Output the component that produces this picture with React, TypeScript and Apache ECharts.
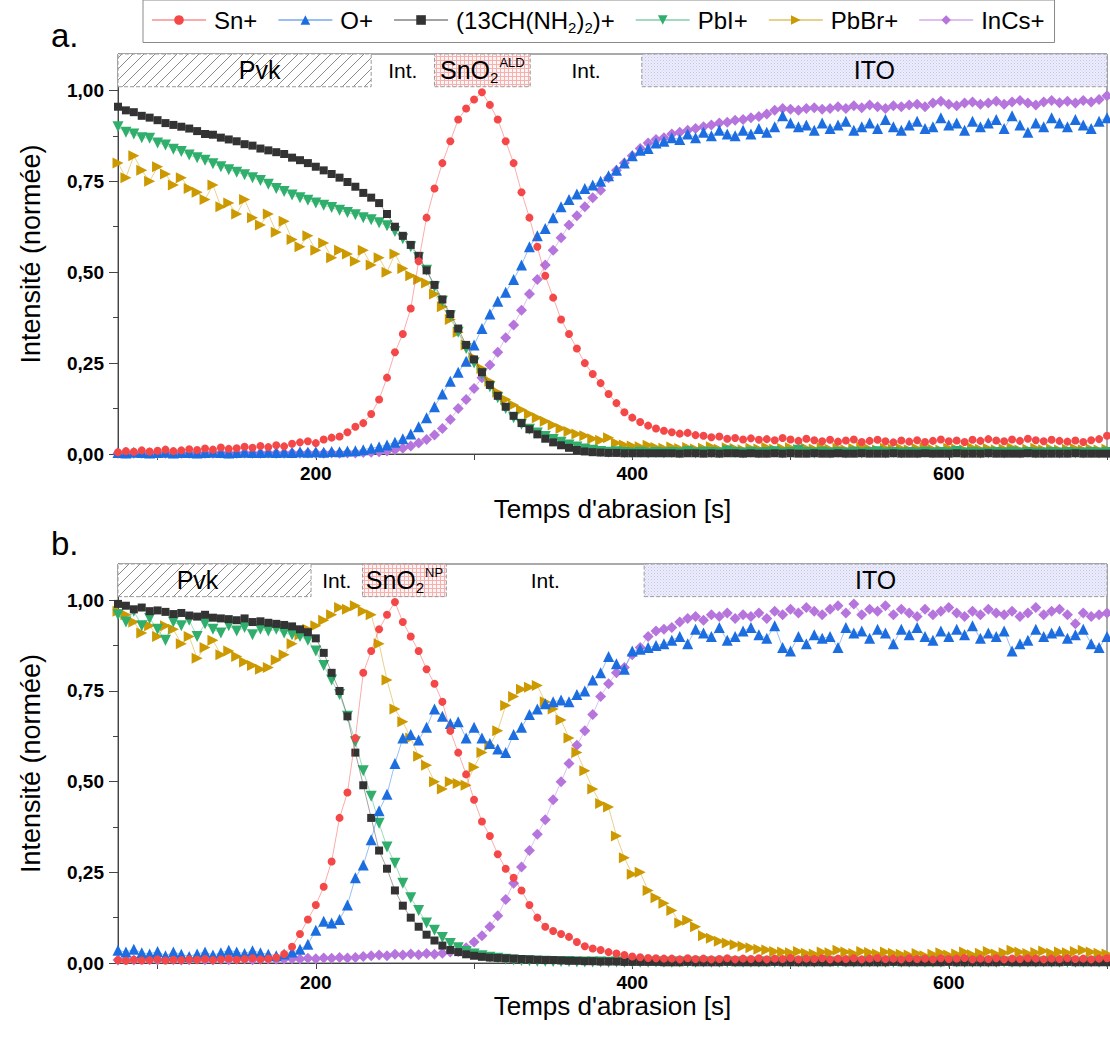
import React, { useEffect, useRef } from "react";
import * as echarts from "echarts";

// ---------- data ----------
const TIME = [
  75, 80, 85, 90, 95, 100, 105, 110, 115, 120,
  125, 130, 135, 140, 145, 150, 155, 160, 165, 170,
  175, 180, 185, 190, 195, 200, 205, 210, 215, 220,
  225, 230, 235, 240, 245, 250, 255, 260, 265, 270,
  275, 280, 285, 290, 295, 300, 305, 310, 315, 320,
  325, 330, 335, 340, 345, 350, 355, 360, 365, 370,
  375, 380, 385, 390, 395, 400, 405, 410, 415, 420,
  425, 430, 435, 440, 445, 450, 455, 460, 465, 470,
  475, 480, 485, 490, 495, 500, 505, 510, 515, 520,
  525, 530, 535, 540, 545, 550, 555, 560, 565, 570,
  575, 580, 585, 590, 595, 600, 605, 610, 615, 620,
  625, 630, 635, 640, 645, 650, 655, 660, 665, 670,
  675, 680, 685, 690, 695, 700,
];

// Panel a. (SnO2 ALD)
const TOP_SN = [
  0.005, 0.008, 0.006, 0.010, 0.007, 0.009, 0.012, 0.008, 0.010, 0.013,
  0.011, 0.015, 0.012, 0.018, 0.014, 0.016, 0.020, 0.017, 0.022, 0.019,
  0.024, 0.021, 0.028, 0.032, 0.035, 0.030, 0.040, 0.045, 0.048, 0.060,
  0.075, 0.085, 0.110, 0.150, 0.210, 0.280, 0.330, 0.400, 0.530, 0.650,
  0.730, 0.800, 0.860, 0.920, 0.950, 0.975, 0.995, 0.960, 0.920, 0.860,
  0.800, 0.720, 0.650, 0.570, 0.490, 0.430, 0.370, 0.330, 0.290, 0.250,
  0.220, 0.195, 0.165, 0.140, 0.115, 0.100, 0.088, 0.078, 0.070, 0.064,
  0.060, 0.056, 0.058, 0.052, 0.050, 0.046, 0.048, 0.042, 0.044, 0.040,
  0.043, 0.039, 0.041, 0.038, 0.044, 0.040, 0.036, 0.042, 0.038, 0.035,
  0.039, 0.034, 0.037, 0.040, 0.033, 0.036, 0.039, 0.035, 0.032, 0.037,
  0.034, 0.038, 0.033, 0.036, 0.040, 0.035, 0.037, 0.033, 0.039, 0.036,
  0.041, 0.037, 0.035, 0.040, 0.036, 0.042, 0.038, 0.035, 0.039, 0.036,
  0.034, 0.037, 0.033, 0.038, 0.041, 0.050,
];
const TOP_O = [
  0.004, 0.003, 0.005, 0.004, 0.003, 0.004, 0.005, 0.003, 0.004, 0.004,
  0.003, 0.004, 0.005, 0.004, 0.003, 0.004, 0.005, 0.004, 0.004, 0.005,
  0.004, 0.005, 0.004, 0.006, 0.005, 0.006, 0.005, 0.007, 0.006, 0.008,
  0.009, 0.012, 0.016, 0.020, 0.025, 0.032, 0.042, 0.055, 0.075, 0.100,
  0.130, 0.165, 0.200, 0.225, 0.255, 0.300, 0.345, 0.385, 0.420, 0.445,
  0.480, 0.520, 0.570, 0.600, 0.620, 0.650, 0.680, 0.700, 0.715, 0.730,
  0.740, 0.750, 0.765, 0.780, 0.800, 0.820, 0.835, 0.840, 0.855, 0.860,
  0.870, 0.865, 0.880, 0.870, 0.885, 0.875, 0.890, 0.880, 0.875, 0.890,
  0.880, 0.895, 0.885, 0.900, 0.930, 0.910, 0.900, 0.905, 0.890, 0.910,
  0.895, 0.905, 0.915, 0.890, 0.900, 0.910, 0.895, 0.920, 0.900, 0.890,
  0.905, 0.915, 0.895, 0.900, 0.925, 0.905, 0.910, 0.890, 0.915, 0.900,
  0.910, 0.920, 0.895, 0.930, 0.905, 0.885, 0.910, 0.900, 0.925, 0.910,
  0.900, 0.920, 0.905, 0.895, 0.915, 0.925,
];
const TOP_FA = [
  0.955, 0.945, 0.940, 0.930, 0.925, 0.918, 0.910, 0.905, 0.900, 0.895,
  0.888, 0.880, 0.878, 0.870, 0.865, 0.860, 0.852, 0.848, 0.840, 0.835,
  0.830, 0.825, 0.815, 0.808, 0.800, 0.790, 0.780, 0.770, 0.760, 0.748,
  0.735, 0.718, 0.705, 0.690, 0.660, 0.625, 0.600, 0.575, 0.545, 0.505,
  0.465, 0.425, 0.385, 0.345, 0.300, 0.260, 0.225, 0.190, 0.160, 0.130,
  0.105, 0.085, 0.068, 0.054, 0.042, 0.032, 0.024, 0.017, 0.011, 0.007,
  0.005, 0.004, 0.003, 0.003, 0.002, 0.002, 0.002, 0.002, 0.002, 0.002,
  0.002, 0.001, 0.002, 0.002, 0.001, 0.002, 0.001, 0.002, 0.002, 0.001,
  0.002, 0.001, 0.001, 0.002, 0.001, 0.002, 0.001, 0.001, 0.002, 0.001,
  0.001, 0.002, 0.001, 0.001, 0.002, 0.001, 0.001, 0.001, 0.002, 0.001,
  0.001, 0.001, 0.002, 0.001, 0.001, 0.001, 0.002, 0.001, 0.001, 0.001,
  0.002, 0.001, 0.001, 0.001, 0.001, 0.002, 0.001, 0.001, 0.001, 0.001,
  0.001, 0.002, 0.001, 0.001, 0.001, 0.001,
];
const TOP_PBI = [
  0.900, 0.885, 0.880, 0.870, 0.868, 0.855, 0.850, 0.838, 0.832, 0.822,
  0.815, 0.808, 0.798, 0.790, 0.782, 0.775, 0.768, 0.760, 0.752, 0.742,
  0.730, 0.722, 0.712, 0.705, 0.698, 0.690, 0.684, 0.678, 0.670, 0.664,
  0.658, 0.650, 0.644, 0.636, 0.628, 0.612, 0.592, 0.570, 0.540, 0.505,
  0.460, 0.420, 0.380, 0.335, 0.290, 0.250, 0.220, 0.185, 0.155, 0.125,
  0.100, 0.082, 0.068, 0.058, 0.048, 0.040, 0.032, 0.025, 0.019, 0.014,
  0.010, 0.007, 0.005, 0.006, 0.004, 0.003, 0.005, 0.003, 0.004, 0.003,
  0.004, 0.003, 0.006, 0.003, 0.005, 0.004, 0.003, 0.008, 0.004, 0.003,
  0.005, 0.003, 0.004, 0.006, 0.003, 0.004, 0.010, 0.004, 0.003, 0.005,
  0.003, 0.004, 0.003, 0.005, 0.003, 0.004, 0.006, 0.003, 0.004, 0.003,
  0.004, 0.003, 0.005, 0.003, 0.004, 0.003, 0.007, 0.003, 0.004, 0.003,
  0.003, 0.004, 0.003, 0.005, 0.003, 0.004, 0.003, 0.003, 0.004, 0.003,
  0.004, 0.003, 0.003, 0.004, 0.003, 0.004,
];
const TOP_PBBR = [
  0.800, 0.760, 0.820, 0.780, 0.750, 0.790, 0.770, 0.740, 0.760, 0.730,
  0.720, 0.700, 0.740, 0.680, 0.690, 0.660, 0.700, 0.650, 0.630, 0.660,
  0.610, 0.640, 0.590, 0.570, 0.600, 0.560, 0.580, 0.540, 0.560, 0.550,
  0.530, 0.560, 0.520, 0.540, 0.500, 0.550, 0.510, 0.490, 0.480, 0.470,
  0.440, 0.405, 0.370, 0.335, 0.300, 0.265, 0.235, 0.200, 0.170, 0.150,
  0.135, 0.122, 0.110, 0.100, 0.090, 0.080, 0.070, 0.062, 0.055, 0.050,
  0.042, 0.038, 0.045, 0.030, 0.025, 0.022, 0.020, 0.024, 0.018, 0.016,
  0.019, 0.015, 0.018, 0.014, 0.016, 0.020, 0.013, 0.017, 0.015, 0.012,
  0.016, 0.014, 0.018, 0.013, 0.015, 0.017, 0.012, 0.016, 0.014, 0.018,
  0.013, 0.016, 0.012, 0.015, 0.019, 0.014, 0.011, 0.016, 0.013, 0.015,
  0.012, 0.015, 0.018, 0.013, 0.011, 0.016, 0.014, 0.012, 0.017, 0.013,
  0.015, 0.012, 0.014, 0.017, 0.011, 0.013, 0.016, 0.012, 0.014, 0.011,
  0.013, 0.015, 0.012, 0.014, 0.011, 0.013,
];
const TOP_INCS = [
  0.002, 0.003, 0.002, 0.002, 0.003, 0.002, 0.002, 0.003, 0.002, 0.002,
  0.003, 0.002, 0.002, 0.003, 0.002, 0.002, 0.003, 0.002, 0.002, 0.003,
  0.002, 0.002, 0.003, 0.002, 0.003, 0.002, 0.002, 0.003, 0.002, 0.003,
  0.003, 0.004, 0.005, 0.006, 0.008, 0.012, 0.016, 0.022, 0.030, 0.040,
  0.052, 0.070, 0.095, 0.125, 0.150, 0.180, 0.210, 0.245, 0.280, 0.320,
  0.355, 0.395, 0.440, 0.480, 0.520, 0.560, 0.595, 0.630, 0.655, 0.680,
  0.705, 0.725, 0.760, 0.780, 0.800, 0.820, 0.840, 0.855, 0.865, 0.870,
  0.880, 0.885, 0.890, 0.895, 0.900, 0.905, 0.910, 0.912, 0.918, 0.920,
  0.925, 0.928, 0.935, 0.945, 0.950, 0.948, 0.945, 0.950, 0.952, 0.948,
  0.950, 0.955, 0.950, 0.958, 0.952, 0.960, 0.955, 0.950, 0.958, 0.955,
  0.960, 0.962, 0.955, 0.965, 0.970, 0.962, 0.958, 0.965, 0.968, 0.962,
  0.965, 0.970, 0.962, 0.968, 0.972, 0.965, 0.960, 0.968, 0.972, 0.966,
  0.970, 0.965, 0.972, 0.968, 0.975, 0.985,
];

// Panel b. (SnO2 NP)
const BOT_SN = [
  0.008, 0.006, 0.009, 0.007, 0.008, 0.010, 0.007, 0.009, 0.008, 0.010,
  0.009, 0.011, 0.008, 0.010, 0.012, 0.009, 0.011, 0.013, 0.010, 0.012,
  0.015, 0.025, 0.045, 0.080, 0.120, 0.160, 0.210, 0.280, 0.400, 0.470,
  0.620, 0.800, 0.860, 0.920, 0.960, 0.995, 0.940, 0.900, 0.860, 0.810,
  0.770, 0.720, 0.640, 0.580, 0.520, 0.450, 0.390, 0.350, 0.300, 0.260,
  0.235, 0.200, 0.160, 0.125, 0.100, 0.088, 0.080, 0.072, 0.058, 0.046,
  0.040, 0.036, 0.030, 0.026, 0.022, 0.018, 0.016, 0.014, 0.013, 0.012,
  0.012, 0.010, 0.013, 0.011, 0.012, 0.010, 0.011, 0.013, 0.010, 0.012,
  0.011, 0.013, 0.010, 0.012, 0.011, 0.014, 0.010, 0.012, 0.011, 0.013,
  0.010, 0.012, 0.011, 0.013, 0.010, 0.012, 0.014, 0.011, 0.012, 0.010,
  0.013, 0.011, 0.012, 0.010, 0.013, 0.011, 0.012, 0.014, 0.010, 0.012,
  0.011, 0.013, 0.010, 0.012, 0.011, 0.013, 0.012, 0.010, 0.012, 0.011,
  0.013, 0.011, 0.012, 0.010, 0.012, 0.013,
];
const BOT_O = [
  0.035, 0.030, 0.038, 0.028, 0.025, 0.032, 0.020, 0.030, 0.024, 0.018,
  0.025, 0.030, 0.022, 0.028, 0.035, 0.030, 0.026, 0.034, 0.028, 0.024,
  0.020, 0.025, 0.030, 0.038, 0.052, 0.090, 0.115, 0.110, 0.120, 0.160,
  0.235, 0.270, 0.340, 0.420, 0.465, 0.550, 0.620, 0.630, 0.615, 0.650,
  0.700, 0.680, 0.660, 0.665, 0.620, 0.650, 0.620, 0.605, 0.590, 0.580,
  0.630, 0.650, 0.685, 0.700, 0.715, 0.720, 0.725, 0.720, 0.740, 0.750,
  0.780, 0.800, 0.845, 0.825, 0.810, 0.860, 0.865, 0.870, 0.875, 0.880,
  0.890, 0.900, 0.880, 0.920, 0.910, 0.900, 0.925, 0.890, 0.900, 0.915,
  0.925, 0.905, 0.895, 0.930, 0.870, 0.860, 0.900, 0.880, 0.905, 0.895,
  0.900, 0.870, 0.925, 0.910, 0.915, 0.895, 0.920, 0.910, 0.880, 0.920,
  0.905, 0.925, 0.900, 0.890, 0.915, 0.900, 0.920, 0.905, 0.930, 0.895,
  0.910, 0.900, 0.915, 0.860, 0.880, 0.890, 0.920, 0.900, 0.910, 0.915,
  0.895, 0.905, 0.920, 0.880, 0.870, 0.900,
];
const BOT_FA = [
  0.990, 0.985, 0.975, 0.980, 0.970, 0.972, 0.968, 0.962, 0.965, 0.958,
  0.955, 0.960, 0.952, 0.950, 0.948, 0.945, 0.950, 0.940, 0.942, 0.938,
  0.935, 0.932, 0.928, 0.920, 0.912, 0.895, 0.855, 0.800, 0.750, 0.680,
  0.580, 0.490, 0.400, 0.310, 0.260, 0.200, 0.158, 0.125, 0.100, 0.078,
  0.062, 0.048, 0.036, 0.030, 0.024, 0.020, 0.017, 0.015, 0.014, 0.013,
  0.012, 0.011, 0.010, 0.009, 0.008, 0.008, 0.007, 0.006, 0.006, 0.005,
  0.005, 0.004, 0.004, 0.004, 0.003, 0.003, 0.003, 0.003, 0.003, 0.002,
  0.002, 0.002, 0.003, 0.002, 0.002, 0.002, 0.002, 0.003, 0.002, 0.002,
  0.002, 0.002, 0.002, 0.003, 0.002, 0.002, 0.002, 0.002, 0.002, 0.002,
  0.002, 0.003, 0.002, 0.002, 0.002, 0.002, 0.002, 0.002, 0.003, 0.002,
  0.002, 0.002, 0.002, 0.002, 0.002, 0.003, 0.002, 0.002, 0.002, 0.002,
  0.002, 0.002, 0.003, 0.002, 0.002, 0.002, 0.002, 0.002, 0.002, 0.002,
  0.003, 0.002, 0.002, 0.002, 0.002, 0.002,
];
const BOT_PBI = [
  0.960, 0.940, 0.970, 0.930, 0.950, 0.920, 0.890, 0.940, 0.930, 0.945,
  0.900, 0.935, 0.920, 0.910, 0.930, 0.915, 0.925, 0.905, 0.920, 0.915,
  0.920, 0.910, 0.905, 0.900, 0.890, 0.860, 0.820, 0.780, 0.740, 0.680,
  0.610, 0.530, 0.460, 0.385, 0.320, 0.275, 0.220, 0.180, 0.145, 0.110,
  0.090, 0.070, 0.054, 0.042, 0.032, 0.025, 0.020, 0.016, 0.013, 0.010,
  0.008, 0.007, 0.006, 0.005, 0.005, 0.004, 0.004, 0.004, 0.003, 0.003,
  0.003, 0.003, 0.002, 0.003, 0.002, 0.003, 0.002, 0.002, 0.003, 0.002,
  0.002, 0.003, 0.002, 0.002, 0.003, 0.002, 0.002, 0.002, 0.003, 0.002,
  0.002, 0.002, 0.003, 0.002, 0.002, 0.002, 0.003, 0.002, 0.002, 0.002,
  0.003, 0.002, 0.002, 0.002, 0.002, 0.003, 0.002, 0.002, 0.002, 0.002,
  0.002, 0.003, 0.002, 0.002, 0.002, 0.002, 0.003, 0.002, 0.002, 0.002,
  0.002, 0.002, 0.003, 0.002, 0.002, 0.002, 0.002, 0.003, 0.002, 0.002,
  0.002, 0.002, 0.002, 0.003, 0.002, 0.002,
];
const BOT_PBBR = [
  0.970, 0.960, 0.940, 0.910, 0.930, 0.900, 0.930, 0.920, 0.880, 0.900,
  0.840, 0.870, 0.890, 0.850, 0.860, 0.845, 0.830, 0.820, 0.810, 0.815,
  0.835, 0.850, 0.880, 0.905, 0.920, 0.930, 0.945, 0.960, 0.980, 0.975,
  0.985, 0.970, 0.960, 0.880, 0.780, 0.700, 0.665, 0.620, 0.570, 0.545,
  0.500, 0.480, 0.500, 0.495, 0.490, 0.540, 0.580, 0.600, 0.640, 0.710,
  0.735, 0.755, 0.760, 0.765, 0.720, 0.700, 0.670, 0.620, 0.580, 0.530,
  0.480, 0.440, 0.430, 0.350, 0.290, 0.245, 0.250, 0.200, 0.180, 0.165,
  0.145, 0.110, 0.118, 0.100, 0.075, 0.068, 0.060, 0.055, 0.050, 0.046,
  0.042, 0.038, 0.036, 0.032, 0.030, 0.028, 0.032, 0.027, 0.025, 0.030,
  0.028, 0.035, 0.030, 0.026, 0.032, 0.029, 0.025, 0.030, 0.027, 0.024,
  0.022, 0.026, 0.020, 0.024, 0.028, 0.022, 0.025, 0.030, 0.023, 0.027,
  0.032, 0.025, 0.028, 0.035, 0.030, 0.026, 0.029, 0.033, 0.027, 0.030,
  0.028, 0.032, 0.035, 0.030, 0.027, 0.025,
];
const BOT_INCS = [
  0.008, 0.009, 0.008, 0.010, 0.009, 0.008, 0.010, 0.009, 0.008, 0.009,
  0.010, 0.009, 0.008, 0.010, 0.009, 0.010, 0.011, 0.009, 0.010, 0.011,
  0.010, 0.011, 0.012, 0.011, 0.013, 0.012, 0.014, 0.013, 0.015, 0.014,
  0.015, 0.018, 0.020, 0.022, 0.020, 0.024, 0.022, 0.025, 0.023, 0.026,
  0.024, 0.027, 0.030, 0.032, 0.042, 0.058, 0.075, 0.100, 0.130, 0.175,
  0.220, 0.265, 0.310, 0.355, 0.395, 0.450, 0.500, 0.550, 0.600, 0.640,
  0.685, 0.735, 0.770, 0.800, 0.815, 0.850, 0.870, 0.900, 0.915, 0.920,
  0.925, 0.940, 0.950, 0.955, 0.945, 0.960, 0.955, 0.965, 0.950, 0.960,
  0.955, 0.965, 0.950, 0.970, 0.960, 0.975, 0.965, 0.980, 0.970, 0.960,
  0.975, 0.985, 0.965, 0.990, 0.960, 0.975, 0.970, 0.985, 0.960, 0.975,
  0.965, 0.955, 0.975, 0.960, 0.970, 0.980, 0.965, 0.955, 0.970, 0.960,
  0.975, 0.965, 0.960, 0.970, 0.955, 0.965, 0.980, 0.960, 0.970, 0.975,
  0.960, 0.935, 0.965, 0.955, 0.960, 0.965,
];

const SERIES_NAMES = ["Sn+", "O+", "(13CH(NH2)2)+", "PbI+", "PbBr+", "InCs+"];
const X_MIN = 75;
const X_MAX = 700;
const X_TICKS = [100, 200, 300, 400, 500, 600, 700];
const X_LABELS = [200, 400, 600];
const Y_MIN = 0;
const Y_MAX = 1.1;
const Y_TICKS = [0, 0.25, 0.5, 0.75, 1];
const Y_MINOR = [0.125, 0.375, 0.625, 0.875];

// header bands (time limits) and labels
const TOP_BAND_EDGES = [75, 235, 275, 335.5, 406, 700];
const BOT_BAND_EDGES = [75, 197, 229.5, 282.5, 407.5, 700];
const TOP_BAND_LABELS = ["Pvk", "Int.", "SnO{s|2}{p|ALD}", "Int.", "ITO"];
const BOT_BAND_LABELS = ["Pvk", "Int.", "SnO{s|2}{p|NP}", "Int.", "ITO"];
const BAND_KINDS = ["pvk", "int", "sno", "int", "ito"];
const BAND_BOTTOM = 1.01;

// ---------- styles ----------
const FONT = "'Liberation Sans', Arial, sans-serif";
const STYLE: Record<string, any> = {
  "Sn+": { color: "#F44848", symbol: "circle", size: 8, rotate: 0 },
  "O+": { color: "#1C6EE0", symbol: "triangle", size: 11, rotate: 0 },
  "(13CH(NH2)2)+": { color: "#333333", symbol: "rect", size: 8, rotate: 0 },
  "PbI+": { color: "#2FAE6C", symbol: "triangle", size: 11, rotate: 180 },
  "PbBr+": { color: "#CC9900", symbol: "triangle", size: 11, rotate: -90 },
  "InCs+": { color: "#B575DC", symbol: "diamond", size: 11, rotate: 0 },
};

const svgUrl = (s: string) => "data:image/svg+xml;charset=utf-8," + encodeURIComponent(s);
const HATCH = {
  image: svgUrl(
    '<svg xmlns="http://www.w3.org/2000/svg" width="11" height="11"><rect width="11" height="11" fill="#ffffff"/><path d="M0 11L11 0M-2 2L2 -2M9 13L13 9" stroke="#8a8a8a" stroke-width="1"/></svg>'
  ),
  repeat: "repeat",
  imageWidth: 11,
  imageHeight: 11,
};
const PINK_GRID = {
  image: svgUrl(
    '<svg xmlns="http://www.w3.org/2000/svg" width="4" height="4"><rect width="4" height="4" fill="#fff4f4"/><path d="M0 0.5H4M0.5 0V4" stroke="#f5b0b0" stroke-width="1"/></svg>'
  ),
  repeat: "repeat",
  imageWidth: 4,
  imageHeight: 4,
};
const BLUE_DOTS = {
  image: svgUrl(
    '<svg xmlns="http://www.w3.org/2000/svg" width="3" height="3"><rect width="3" height="3" fill="#ececfb"/><rect width="1" height="1" fill="#c4c4ee"/><rect x="1.5" y="1.5" width="1" height="1" fill="#d6d6f4"/></svg>'
  ),
  repeat: "repeat",
  imageWidth: 3,
  imageHeight: 3,
};

const RICH = {
  s: { fontSize: 15, fontFamily: FONT, color: "#000", padding: [14, 0, 0, 0] },
  p: { fontSize: 13, fontFamily: FONT, color: "#000", padding: [0, 0, 16, 1] },
};

function bandItems(edges: number[], labels: string[], pvkOffset: number) {
  return labels.map((lab, i) => {
    const kind = BAND_KINDS[i];
    let itemStyle: any;
    if (kind === "int") {
      itemStyle = { color: "rgba(0,0,0,0)", borderWidth: 0, opacity: 1 };
    } else {
      itemStyle = {
        color: kind === "pvk" ? HATCH : kind === "sno" ? PINK_GRID : BLUE_DOTS,
        borderColor: "#9a9a9a",
        borderWidth: 1,
        borderType: "dashed",
        opacity: 1,
      };
    }
    return [
      {
        name: lab,
        xAxis: edges[i],
        yAxis: BAND_BOTTOM,
        itemStyle,
        label: {
          show: true,
          position: "inside",
          formatter: lab,
          color: "#000",
          fontFamily: FONT,
          fontSize: kind === "int" ? 21 : 25,
          offset: kind === "pvk" ? [pvkOffset, 0] : [0, 0],
          rich: RICH,
        },
      },
      { xAxis: edges[i + 1], yAxis: Y_MAX },
    ];
  });
}

function panelSeries(gridIdx: number, values: Record<string, number[]>, bands: any[]) {
  const order = ["InCs+", "PbBr+", "PbI+", "(13CH(NH2)2)+", "O+", "Sn+"];
  return order.map((name, k) => {
    const st = STYLE[name];
    const s: any = {
      type: "line",
      name,
      xAxisIndex: gridIdx,
      yAxisIndex: gridIdx * 2,
      data: TIME.map((t, i) => [t, values[name][i]]),
      symbol: st.symbol,
      symbolSize: st.size,
      symbolRotate: st.rotate,
      showSymbol: true,
      showAllSymbol: true,
      clip: true,
      silent: true,
      itemStyle: { color: st.color },
      lineStyle: { color: st.color, width: 1, opacity: 0.45 },
      emphasis: { disabled: true },
      z: 2 + k,
    };
    if (k === 0) {
      s.markArea = { silent: true, z: 1, data: bands };
    }
    return s;
  });
}

function xAxisDef(gridIdx: number, nameGap: number) {
  return {
    type: "value",
    gridIndex: gridIdx,
    min: X_MIN,
    max: X_MAX,
    name: "Temps d'abrasion [s]",
    nameLocation: "middle",
    nameGap,
    nameTextStyle: { fontFamily: FONT, fontSize: 26, color: "#000" },
    axisLine: { show: true, onZero: false, lineStyle: { color: "#444", width: 1 } },
    axisTick: { show: true, customValues: X_TICKS, length: 6, lineStyle: { color: "#444" } },
    axisLabel: {
      show: true,
      customValues: X_LABELS,
      fontFamily: FONT,
      fontWeight: "bold",
      fontSize: 19,
      color: "#000",
      margin: 10,
    },
    splitLine: { show: false },
  };
}

function yAxesDef(gridIdx: number) {
  return [
    {
      type: "value",
      gridIndex: gridIdx,
      min: Y_MIN,
      max: Y_MAX,
      name: "Intensité (normée)",
      nameLocation: "middle",
      nameGap: 74,
      nameTextStyle: { fontFamily: FONT, fontSize: 27, color: "#000" },
      axisLine: { show: true, onZero: false, lineStyle: { color: "#444", width: 1 } },
      axisTick: { show: true, customValues: Y_TICKS, length: 9, lineStyle: { color: "#444" } },
      axisLabel: {
        show: true,
        customValues: Y_TICKS,
        formatter: (v: number) => v.toFixed(2).replace(".", ","),
        fontFamily: FONT,
        fontWeight: "bold",
        fontSize: 19,
        color: "#000",
        margin: 14,
      },
      splitLine: { show: false },
    },
    {
      type: "value",
      gridIndex: gridIdx,
      min: Y_MIN,
      max: Y_MAX,
      position: "left",
      axisLine: { show: false },
      axisTick: { show: true, customValues: Y_MINOR, length: 5, lineStyle: { color: "#444" } },
      axisLabel: { show: false },
      splitLine: { show: false },
    },
  ];
}

export default function App() {
  const ref = useRef<HTMLDivElement>(null);

  useEffect(() => {
    document.body.style.margin = "0";
    if (!ref.current) return;
    const chart = echarts.init(ref.current, null, { renderer: "svg" });

    const topValues: Record<string, number[]> = {
      "Sn+": TOP_SN,
      "O+": TOP_O,
      "(13CH(NH2)2)+": TOP_FA,
      "PbI+": TOP_PBI,
      "PbBr+": TOP_PBBR,
      "InCs+": TOP_INCS,
    };
    const botValues: Record<string, number[]> = {
      "Sn+": BOT_SN,
      "O+": BOT_O,
      "(13CH(NH2)2)+": BOT_FA,
      "PbI+": BOT_PBI,
      "PbBr+": BOT_PBBR,
      "InCs+": BOT_INCS,
    };

    const option: any = {
      animation: false,
      backgroundColor: "#ffffff",
      title: [
        { text: "a.", left: 46, top: 14, textStyle: { fontFamily: FONT, fontSize: 33, fontWeight: "normal", color: "#000" } },
        { text: "b.", left: 46, top: 522, textStyle: { fontFamily: FONT, fontSize: 33, fontWeight: "normal", color: "#000" } },
      ],
      legend: {
        data: SERIES_NAMES,
        left: 143,
        top: 0,
        itemWidth: 54,
        itemHeight: 12,
        itemGap: 20,
        padding: [8, 10, 8, 8],
        borderColor: "#8a8a8a",
        borderWidth: 1,
        selectedMode: false,
        formatter: (n: string) => (n === "(13CH(NH2)2)+" ? "(13CH(NH{s|2}){s|2})+" : n),
        textStyle: {
          fontFamily: FONT,
          fontSize: 24,
          color: "#000",
          padding: [0, 0, 0, 3],
          rich: { s: { fontSize: 15, fontFamily: FONT, color: "#000", padding: [14, 0, 0, 0] } },
        },
      },
      grid: [
        { left: 118, top: 54, width: 989, height: 400, show: true, borderColor: "#555", borderWidth: 1, backgroundColor: "transparent" },
        { left: 118, top: 564, width: 989, height: 399, show: true, borderColor: "#555", borderWidth: 1, backgroundColor: "transparent" },
      ],
      xAxis: [xAxisDef(0, 42), xAxisDef(1, 30)],
      yAxis: [...yAxesDef(0), ...yAxesDef(1)],
      series: [
        ...panelSeries(0, topValues, bandItems(TOP_BAND_EDGES, TOP_BAND_LABELS, 15)),
        ...panelSeries(1, botValues, bandItems(BOT_BAND_EDGES, BOT_BAND_LABELS, -17)),
      ],
    };

    chart.setOption(option);
    return () => chart.dispose();
  }, []);

  return <div ref={ref} style={{ width: 1110, height: 1038 }} />;
}
